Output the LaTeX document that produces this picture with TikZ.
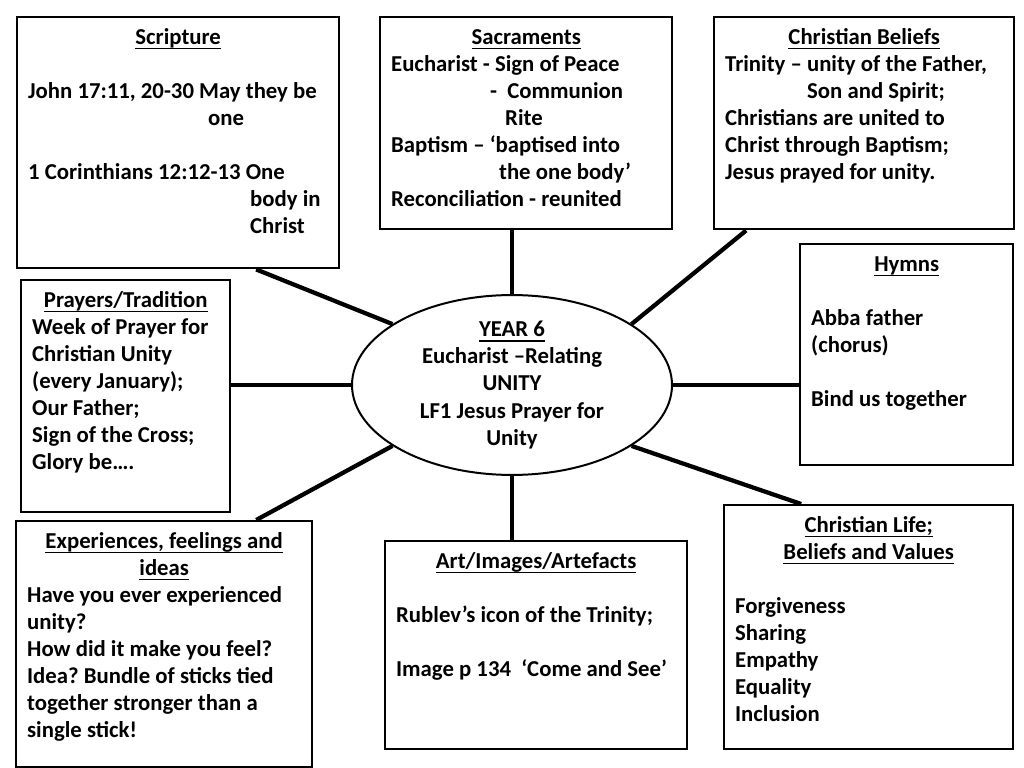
\documentclass[tikz,border=0pt]{standalone}
\usepackage{fontspec}
\setmainfont{Carlito}
\usetikzlibrary{shapes.geometric}

\newcommand{\mapfont}{\fontsize{16pt}{19pt}\selectfont\bfseries\frenchspacing}
\newcommand{\ul}[1]{\setbox0\hbox{#1}\rlap{\rule[-3.4pt]{\wd0}{0.9pt}}\box0}
\newcommand{\hd}[1]{\makebox[\linewidth]{\ul{#1}}}

\begin{document}
\begin{tikzpicture}[
  x=0.703125pt, y=-0.703125pt,
  box/.style={draw, line width=1.7pt, anchor=north west, align=flush left, inner xsep=7.7pt, inner ysep=0pt, text height=19pt, font=\mapfont},
  hub/.style={draw, ellipse, line width=1.4pt, minimum width=225pt, minimum height=114pt, inner sep=0pt, align=center, font=\mapfont},
  link/.style={line width=3pt}
]
\useasboundingbox (0,0) rectangle (1024,768);

% centre
\node[hub] (cen) at (512,385) {\ul{YEAR 6}\\ Eucharist –Relating\\ UNITY\\ LF1 Jesus Prayer for\\ Unity};

% top row
\node[box, text width=211pt, text depth=157.5pt] (scr) at (16,16) {\hd{Scripture}\\[19pt]
John 17:11, 20-30 May they be\\
\hspace*{126.6pt}one\\[19pt]
1 Corinthians 12:12-13 One\\
\hspace*{156.1pt}body in\\
\hspace*{156.1pt}Christ};
\node[box, text width=189.9pt, text depth=130.1pt] (sac) at (379,16) {\hd{Sacraments}\\
Eucharist - Sign of Peace\\
\hspace*{69.6pt}-\ \ Communion\\
\hspace*{80.2pt}Rite\\
Baptism – ‘baptised into\\
\hspace*{75.9pt}the one body’\\
Reconciliation - reunited};
\node[box, text width=195.5pt, text depth=130.1pt] (bel) at (713,16) {\hd{Christian Beliefs}\\
Trinity – unity of the Father,\\
\hspace*{57.7pt}Son and Spirit;\\
Christians are united to\\
Christ through Baptism;\\
Jesus prayed for unity.};

% middle row
\node[box, text width=131.6pt, text depth=144.1pt] (pra) at (20,279) {\hd{Prayers/Tradition}\\
Week of Prayer for\\
Christian Unity\\
(every January);\\
Our Father;\\
Sign of the Cross;\\
Glory be….};
\node[box, text width=134.4pt, text depth=136.4pt] (hym) at (799,243) {\hd{Hymns}\\[19pt]
Abba father\\
(chorus)\\[19pt]
Bind us together};

% bottom row
\node[box, text width=192.7pt, text depth=154pt] (exp) at (15,520) {\hd{Experiences, feelings and}\\
\hd{ideas}\\
Have you ever experienced\\
unity?\\
How did it make you feel?\\
Idea? Bundle of sticks tied\\
together stronger than a\\
single stick!};
\node[box, text width=196.9pt, text depth=127.3pt] (art) at (384,540) {\hd{Art/Images/Artefacts}\\[19pt]
Rublev’s icon of the Trinity;\\[19pt]
Image p 134\ \ ‘Come and See’};
\node[box, text width=187.8pt, text depth=152.6pt] (lif) at (723,504) {\hd{Christian Life;}\\
\hd{Beliefs and Values}\\[19pt]
Forgiveness\\
Sharing\\
Empathy\\
Equality\\
Inclusion};

% spokes
\draw[link] ([xshift=54.8pt]scr.south) -- (cen.153);
\draw[link] (cen.north |- sac.south) -- (cen.north);
\draw[link] ([xshift=-83pt]bel.south) -- (cen.27);
\draw[link] (pra.east |- cen.west) -- (cen.west);
\draw[link] (hym.west |- cen.east) -- (cen.east);
\draw[link] ([xshift=64.7pt]exp.north) -- (cen.207);
\draw[link] (cen.south |- art.north) -- (cen.south);
\draw[link] ([xshift=-47.5pt]lif.north) -- (cen.333);
\end{tikzpicture}
\end{document}
